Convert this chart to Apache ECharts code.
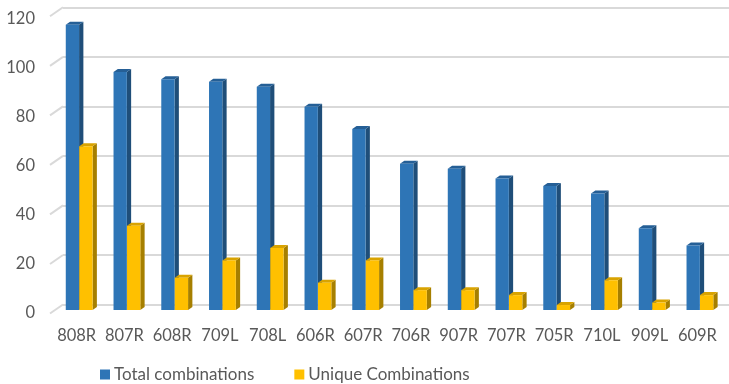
<!DOCTYPE html>
<html>
<head>
<meta charset="utf-8">
<script src="https://cdn.jsdelivr.net/npm/echarts@6/dist/echarts.min.js"></script>
<style>html,body{margin:0;padding:0;background:#fff}#c{width:729px;height:384px}</style>
</head>
<body>
<div id="c"></div>
<script>
var categories = ['808R','807R','608R','709L','708L','606R','607R','706R','907R','707R','705R','710L','909L','609R'];
var totalCombinations = [115, 96, 93, 92, 90, 82, 73, 59, 57, 53, 50, 47, 33, 26];
var uniqueCombinations = [66, 34, 13, 20, 25, 11, 20, 8, 8, 6, 2, 12, 3, 6];
var yTicks = [0, 20, 40, 60, 80, 100, 120];

var FONT = 'Lato';
var chart = echarts.init(document.getElementById('c'), null, {renderer: 'canvas'});

function bar3d(offsetFn, front, side, top) {
  return function (params, api) {
    var i = api.value(0), v = api.value(1);
    var p1 = api.coord([i, v]);
    var p0 = api.coord([i, 0]);
    var w = 13.3, dx = 4.3, dy = -3;
    var xl = p1[0] + offsetFn(), xr = xl + w;
    var yt = p1[1], yb = p0[1];
    return {
      type: 'group',
      children: [
        {type: 'polygon', shape: {points: [[xr, yt], [xr + dx, yt + dy], [xr + dx, yb + dy], [xr, yb]]}, style: {fill: side}},
        {type: 'polygon', shape: {points: [[xl, yt], [xl + dx, yt + dy], [xr + dx, yt + dy], [xr, yt]]}, style: {fill: top}},
        {type: 'rect', shape: {x: xl, y: yt, width: w, height: yb - yt}, style: {fill: front}}
      ]
    };
  };
}

var option = {
  animation: false,
  textStyle: {fontFamily: FONT},
  grid: [
    {left: 63, right: 0, top: 7.3, bottom: 79.5},
    {left: 63, right: 0, top: 19, bottom: 71},
    {left: 52.8, right: 7.7, top: 12.4, bottom: 74}
  ],
  xAxis: [
    {gridIndex: 0, type: 'value', min: 0, max: 1, show: false},
    {gridIndex: 1, type: 'value', min: 0, max: 1, show: false},
    {gridIndex: 2, type: 'category', data: categories,
     axisLine: {show: false}, axisTick: {show: false},
     axisLabel: {color: '#595959', fontSize: 16.5, fontFamily: FONT, margin: 17, interval: 0}}
  ],
  yAxis: [
    {gridIndex: 0, type: 'value', min: 0, max: 120, interval: 20,
     axisLabel: {show: false}, axisLine: {show: false}, axisTick: {show: false},
     splitLine: {lineStyle: {color: '#d9d9d9', width: 2}}},
    {gridIndex: 1, type: 'value', min: 0, max: 120, interval: 20,
     axisLabel: {color: '#595959', fontSize: 16.5, fontFamily: FONT, margin: 28},
     axisLine: {show: false}, axisTick: {show: false}, splitLine: {show: false}},
    {gridIndex: 2, type: 'value', min: 0, max: 120, interval: 20, show: false, splitLine: {show: false}}
  ],
  legend: {
    top: 366, left: 100, padding: 0, itemWidth: 10, itemHeight: 10, itemGap: 40,
    icon: 'rect',
    textStyle: {color: '#595959', fontSize: 17, fontFamily: FONT, padding: [0, 0, 0, -1]},
    data: ['Total combinations', 'Unique Combinations']
  },
  series: [
    {
      name: 'wall-diagonals', type: 'custom', xAxisIndex: 0, yAxisIndex: 0, silent: true,
      data: yTicks.map(function (t) { return [0, t]; }),
      renderItem: function (params, api) {
        var p = api.coord([0, api.value(1)]);
        return {type: 'line', shape: {x1: p[0], y1: p[1], x2: p[0] - 13, y2: p[1] + 9},
                style: {stroke: '#d9d9d9', lineWidth: 2}};
      }
    },
    {
      name: 'Total combinations', type: 'custom', xAxisIndex: 2, yAxisIndex: 2,
      itemStyle: {color: '#2E75B6'},
      data: totalCombinations.map(function (v, i) { return [i, v]; }),
      renderItem: bar3d(function () { return 2.5 - 13.4; }, '#2E75B6', '#1F4E79', '#255F96')
    },
    {
      name: 'Unique Combinations', type: 'custom', xAxisIndex: 2, yAxisIndex: 2,
      itemStyle: {color: '#FFC000'},
      data: uniqueCombinations.map(function (v, i) { return [i, v]; }),
      renderItem: bar3d(function () { return 2.6; }, '#FFC000', '#A67F00', '#D9A300')
    }
  ]
};
chart.setOption(option);
</script>
</body>
</html>
